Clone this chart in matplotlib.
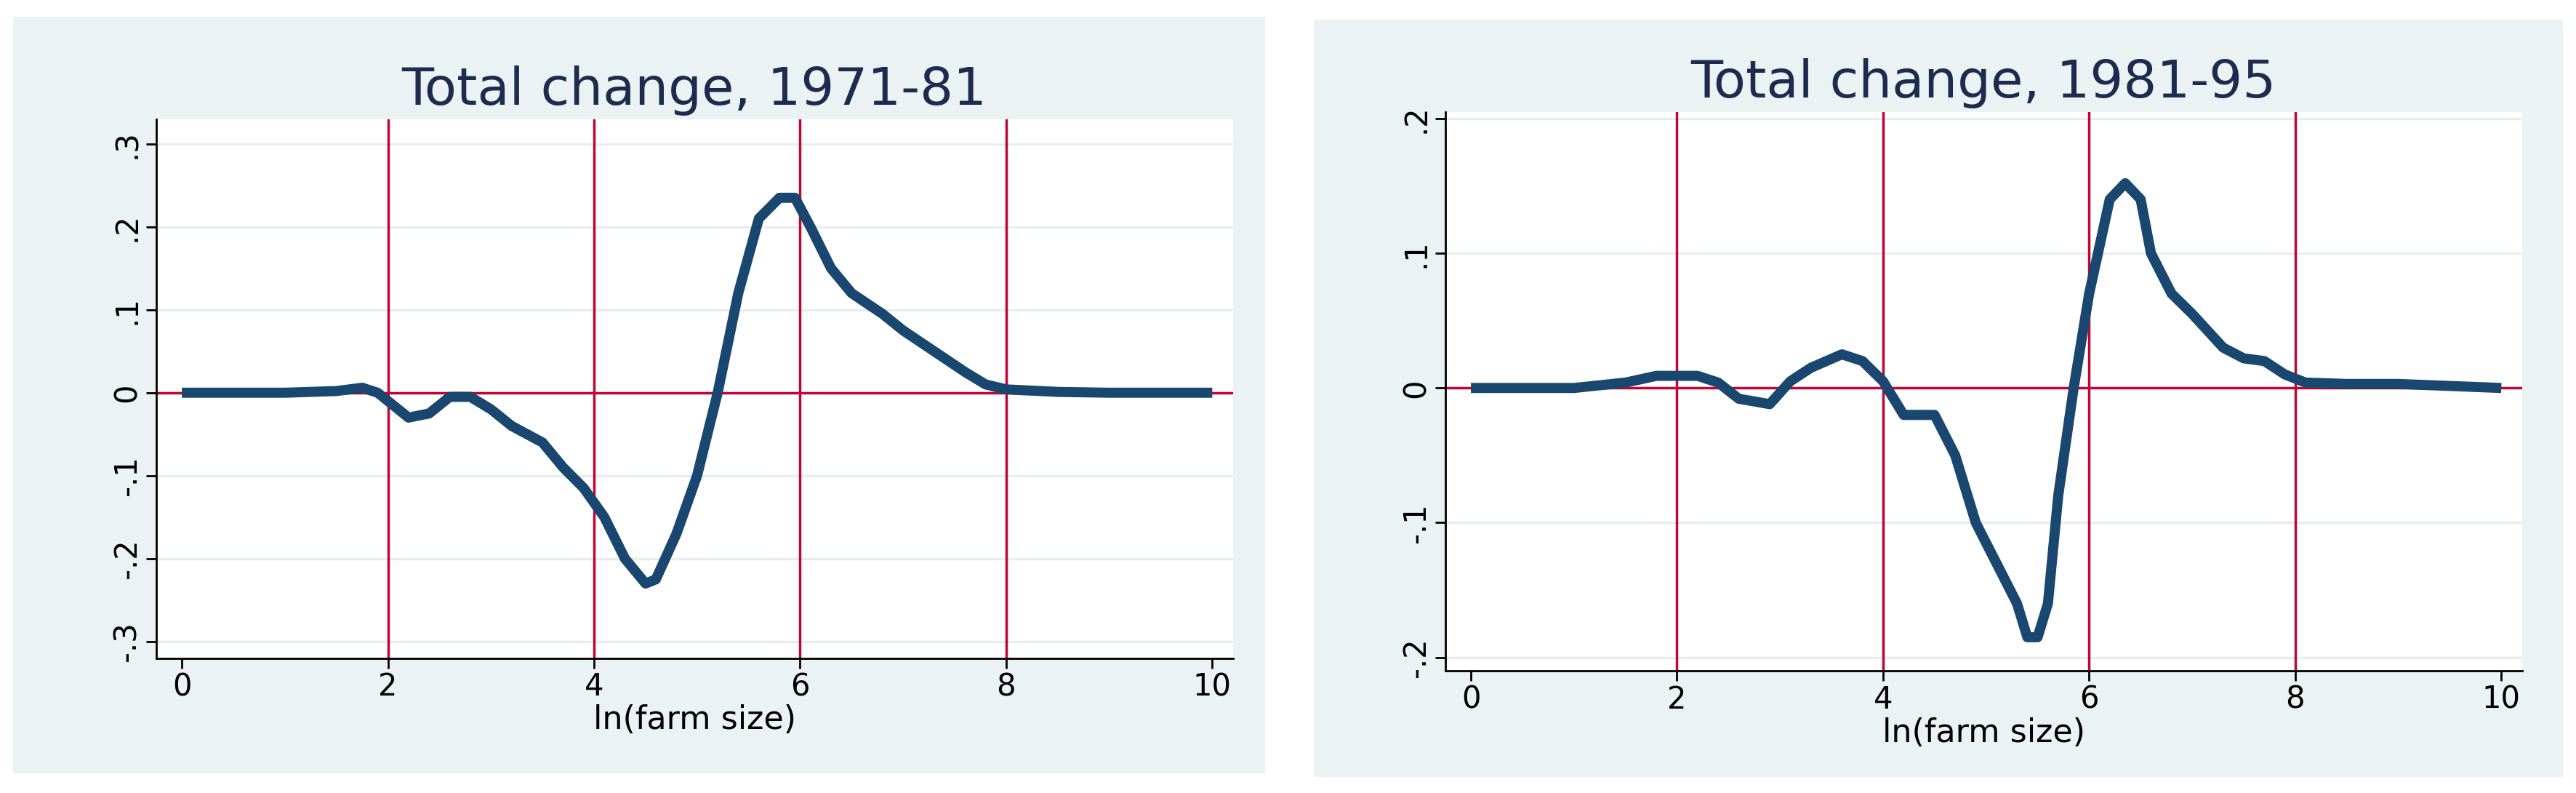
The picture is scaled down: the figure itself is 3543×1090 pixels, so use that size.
import numpy as np
import matplotlib
matplotlib.use('Agg')
import matplotlib.pyplot as plt
from matplotlib.patches import Rectangle

# Curve: ln(farm size) vs total change
x_7181 = [0, 1, 1.5, 1.75, 1.9, 2.0, 2.2, 2.4, 2.6, 2.8, 3.0, 3.2, 3.5, 3.7, 3.9, 4.1, 4.3,
          4.5, 4.6, 4.8, 5.0, 5.2, 5.4, 5.6, 5.8, 5.95, 6.1, 6.3, 6.5, 6.8, 7.0, 7.3, 7.6,
          7.8, 8.0, 8.5, 9.0, 10.0]
y_7181 = [0, 0, 0.002, 0.006, 0, -0.01, -0.03, -0.025, -0.005, -0.005, -0.02, -0.04, -0.06,
          -0.09, -0.115, -0.15, -0.2, -0.23, -0.225, -0.17, -0.1, 0, 0.12, 0.21, 0.235, 0.235,
          0.2, 0.15, 0.12, 0.095, 0.075, 0.05, 0.025, 0.01, 0.004, 0.001, 0, 0]

x_8195 = [0, 1, 1.5, 1.8, 2.2, 2.4, 2.6, 2.9, 3.1, 3.3, 3.6, 3.8, 4.0, 4.2, 4.5, 4.7, 4.9,
          5.1, 5.3, 5.4, 5.5, 5.6, 5.7, 5.85, 6.0, 6.2, 6.35, 6.5, 6.6, 6.8, 7.0, 7.3, 7.5,
          7.7, 7.9, 8.1, 8.5, 9.0, 10.0]
y_8195 = [0, 0, 0.004, 0.009, 0.009, 0.004, -0.008, -0.012, 0.005, 0.015, 0.025, 0.02, 0.005,
          -0.02, -0.02, -0.05, -0.1, -0.13, -0.16, -0.185, -0.185, -0.16, -0.08, 0, 0.07, 0.14,
          0.152, 0.14, 0.1, 0.07, 0.055, 0.03, 0.022, 0.02, 0.01, 0.004, 0.003, 0.003, 0]

bg = '#eaf2f3'
navy = '#1a476f'
red = '#c10534'

fig = plt.figure(figsize=(35.43, 10.9), dpi=100)
fig.patch.set_facecolor('white')

# light panel backgrounds (behind the axes)
for x0, y0, w, h in [(0.005, 0.025, 0.486, 0.954), (0.510, 0.02, 0.485, 0.955)]:
    fig.patches.append(Rectangle((x0, y0), w, h, transform=fig.transFigure,
                                 facecolor=bg, edgecolor='none', zorder=-10))

panels = [
    ([0.0606, 0.170, 0.418, 0.680], x_7181, y_7181, 'Total change, 1971-81',
     [-0.3, -0.2, -0.1, 0, 0.1, 0.2, 0.3], ['-.3', '-.2', '-.1', '0', '.1', '.2', '.3'], (-0.32, 0.33)),
    ([0.561, 0.154, 0.418, 0.705], x_8195, y_8195, 'Total change, 1981-95',
     [-0.2, -0.1, 0, 0.1, 0.2], ['-.2', '-.1', '0', '.1', '.2'], (-0.21, 0.205)),
]

for pos, xs, ys, title, yt, ytl, ylim in panels:
    ax = fig.add_axes(pos)
    ax.set_zorder(1)
    ax.set_facecolor('white')
    for t in yt:
        ax.axhline(t, color='#e8eef0', lw=2.5, zorder=1)
    for v in [2, 4, 6, 8]:
        ax.axvline(v, color=red, lw=2.5, zorder=2)
    ax.axhline(0, color=red, lw=2.5, zorder=2)
    ax.plot(xs, ys, color=navy, lw=10, solid_capstyle='butt', zorder=3)
    ax.set_xlim(-0.25, 10.2)
    ax.set_ylim(*ylim)
    ax.set_xticks([0, 2, 4, 6, 8, 10])
    ax.set_yticks(yt)
    ax.set_yticklabels(ytl, rotation=90, va='center')
    ax.tick_params(labelsize=30, length=10, width=2, colors='black')
    for s in ['top', 'right']:
        ax.spines[s].set_visible(False)
    for s in ['left', 'bottom']:
        ax.spines[s].set_linewidth(2)
    ax.set_xlabel('ln(farm size)', fontsize=32, labelpad=2)
    ax.set_title(title, fontsize=52, color='#1e2b4f', pad=14)

fig.savefig('out.png', dpi=100, facecolor='white')
plt.close()
